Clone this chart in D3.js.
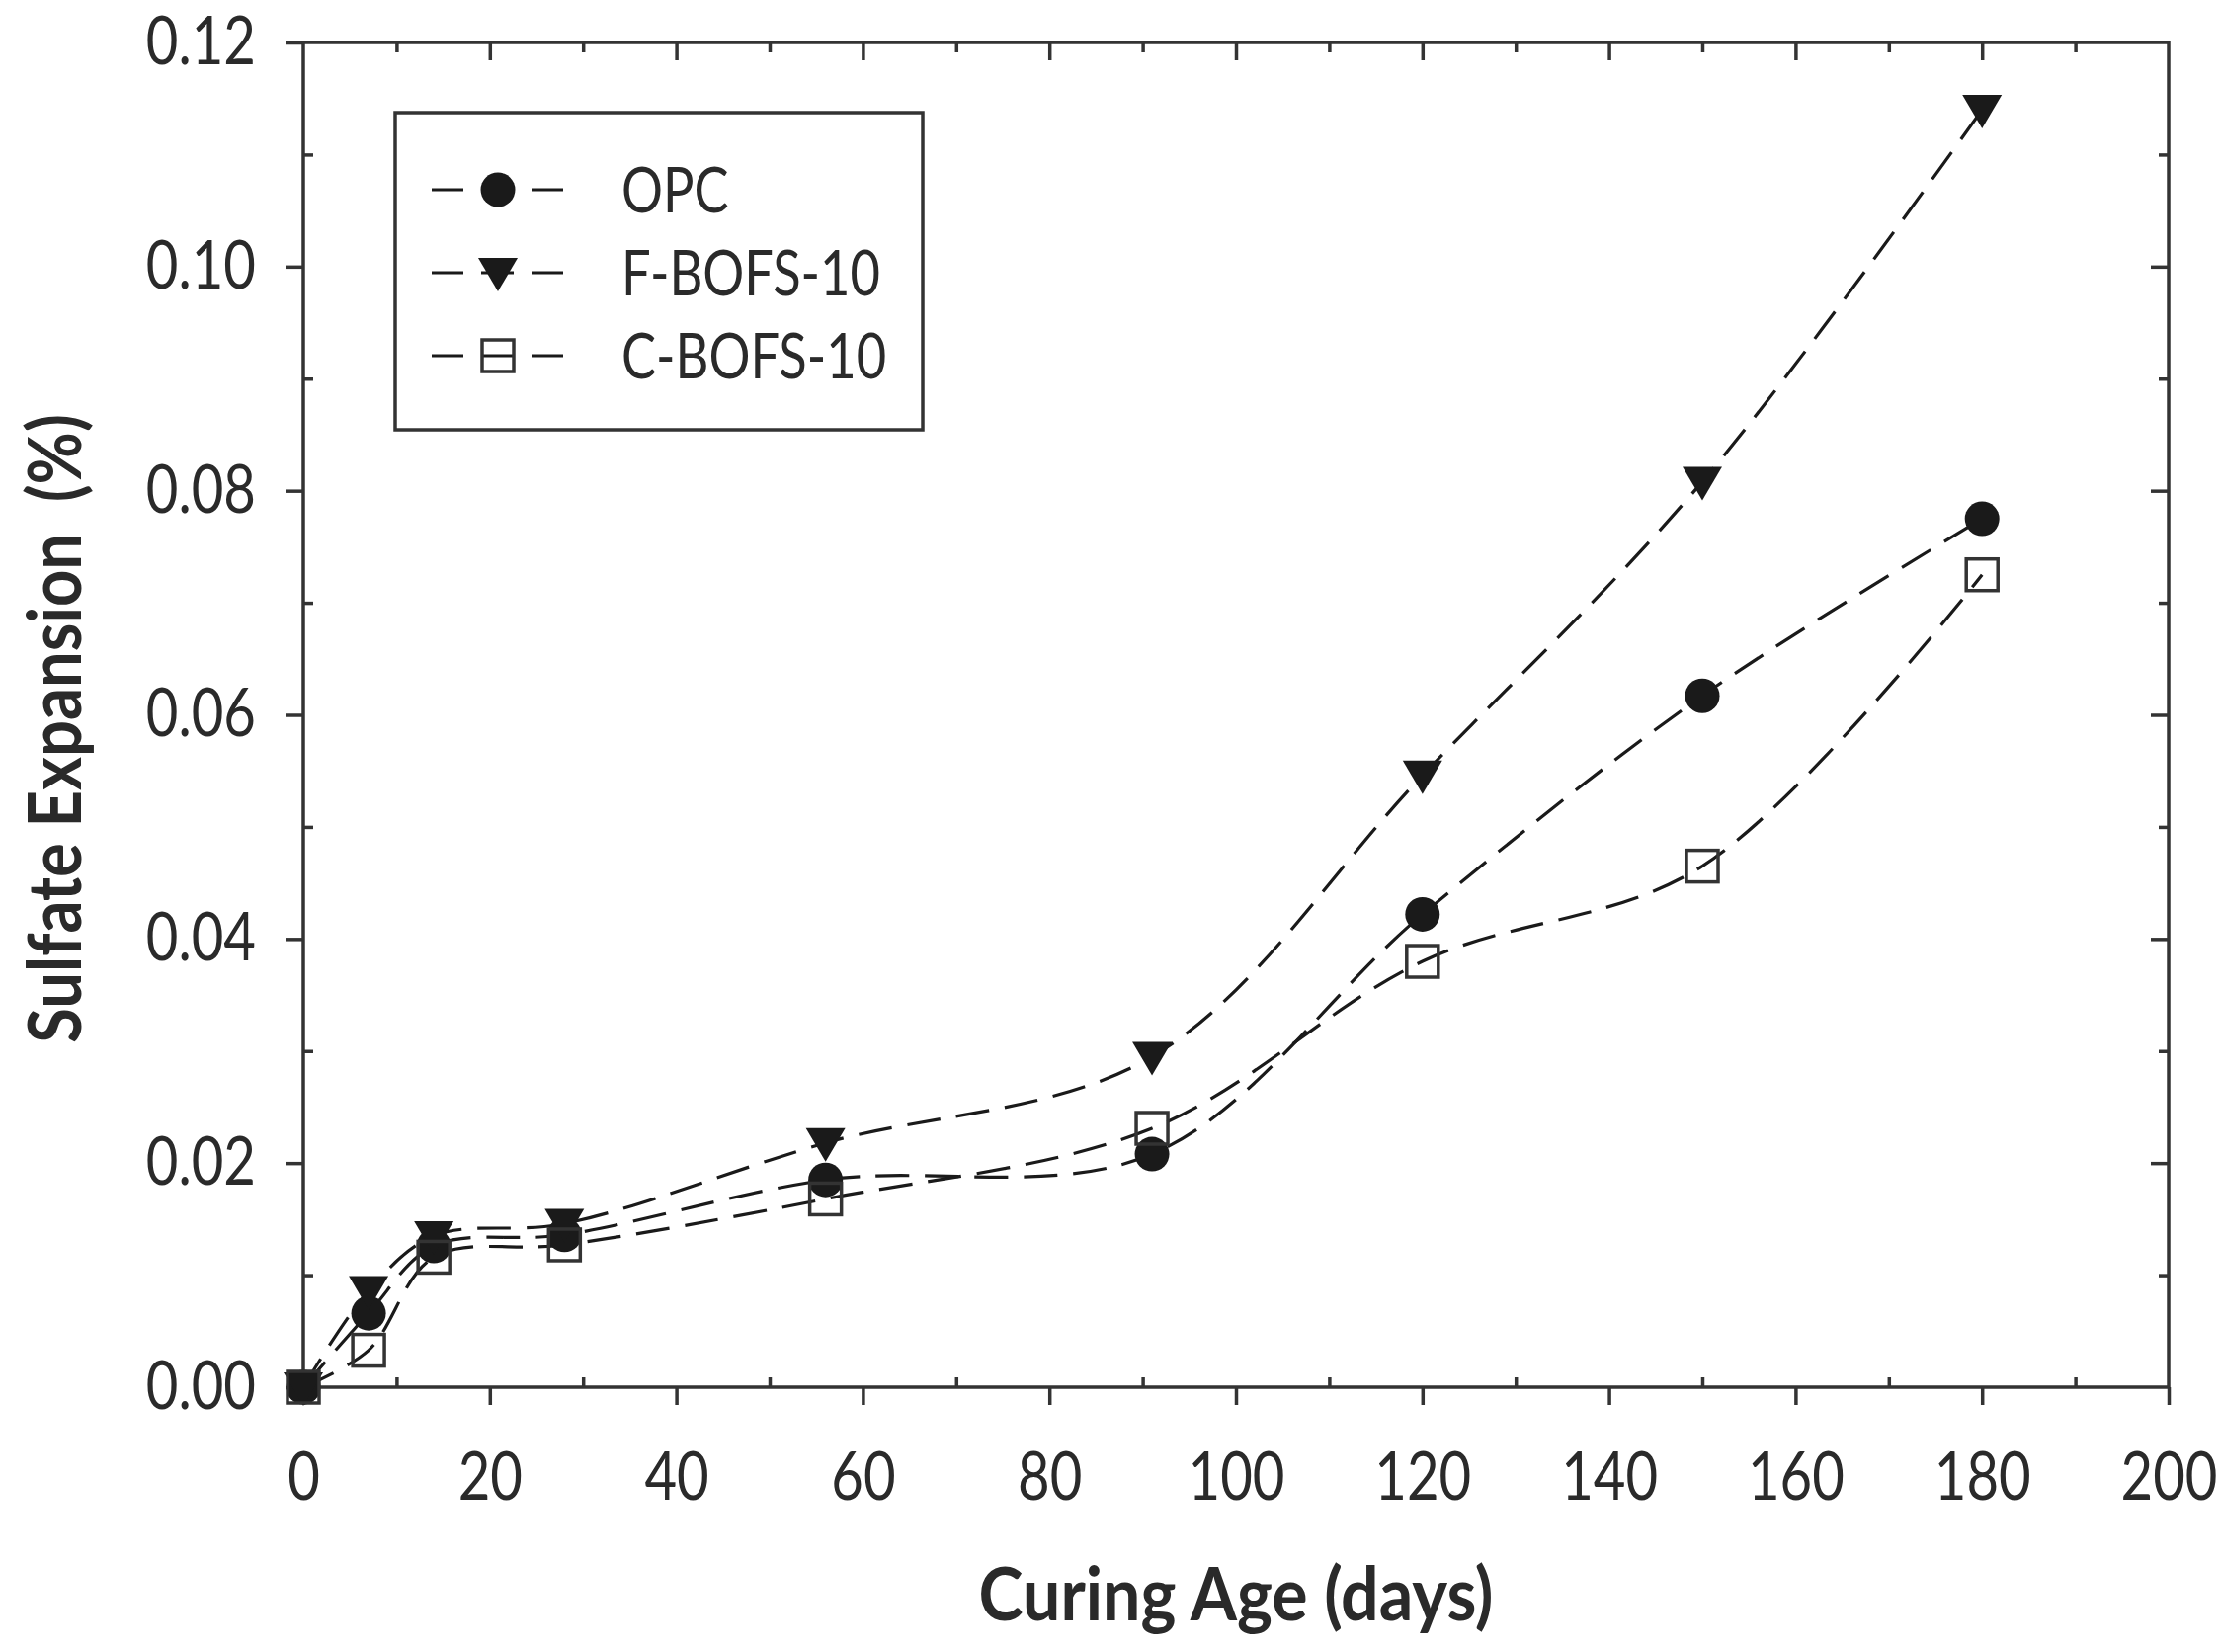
<!DOCTYPE html>
<html>
<head>
<meta charset="utf-8">
<script src="https://cdn.jsdelivr.net/npm/d3@7"></script>
<style>
  body { margin: 0; background: #fff; }
  text { font-family: "Lato", "Open Sans", sans-serif; fill: #2a2a2a; }
</style>
</head>
<body>
<div id="chart"></div>
<script>
// data
const days = [0, 7, 14, 28, 56, 91, 120, 150, 180]
const opc = [0, 0.0066, 0.0126, 0.0136, 0.0185, 0.0208, 0.0422, 0.0617, 0.0775]
const fBofs10 = [0, 0.0086, 0.0135, 0.0146, 0.0218, 0.0295, 0.0546, 0.0808, 0.1140]
const cBofs10 = [0, 0.0033, 0.0116, 0.0127, 0.0168, 0.0231, 0.0380, 0.0465, 0.0725]
const seriesNames = ["OPC", "F-BOFS-10", "C-BOFS-10"]
const xTicks = [0, 20, 40, 60, 80, 100, 120, 140, 160, 180, 200]
const xMinor = [10, 30, 50, 70, 90, 110, 130, 150, 170, 190]
const yTicks = [0, 0.02, 0.04, 0.06, 0.08, 0.10, 0.12]
const yMinor = [0.01, 0.03, 0.05, 0.07, 0.09, 0.11]

const series = [
  { name: seriesNames[0], values: opc, symbol: "circle" },
  { name: seriesNames[1], values: fBofs10, symbol: "triangle" },
  { name: seriesNames[2], values: cBofs10, symbol: "square" },
]

const dimensions = {
  width: 2246,
  height: 1672,
  margin: { top: 43, right: 51, bottom: 268, left: 307 },
}
dimensions.boundedWidth = dimensions.width - dimensions.margin.left - dimensions.margin.right
dimensions.boundedHeight = dimensions.height - dimensions.margin.top - dimensions.margin.bottom

const ink = "#1a1a1a"
const axisInk = "#333"
const majorLen = 18
const minorLen = 10
// the original type is a narrow (Calibri-like) face, so Lato gets squeezed sideways
const squeeze = 0.84

const wrapper = d3.select("#chart").append("svg")
    .attr("width", dimensions.width)
    .attr("height", dimensions.height)

const bounds = wrapper.append("g")
    .attr("transform", `translate(${dimensions.margin.left},${dimensions.margin.top})`)

// scales
const xScale = d3.scaleLinear().domain([0, 200]).range([0, dimensions.boundedWidth])
const yScale = d3.scaleLinear().domain([0, 0.12]).range([dimensions.boundedHeight, 0])

// axes: major ticks out on bottom/left, minor ticks in; top/right ticks in
function styleAxis(g) {
  g.select(".domain").remove()
  g.selectAll(".tick line").attr("stroke", axisInk).attr("stroke-width", 3.5)
  g.selectAll(".tick text").attr("fill", "#2a2a2a")
}

const xAxis = bounds.append("g")
    .attr("transform", `translate(0,${dimensions.boundedHeight})`)
    .call(d3.axisBottom(xScale).tickValues(xTicks).tickSize(majorLen).tickPadding(48))
    .call(styleAxis)
xAxis.selectAll(".tick text")
    .style("font-size", "67px")
    .attr("transform", `scale(${squeeze},1)`)

bounds.append("g")
    .attr("transform", `translate(0,${dimensions.boundedHeight})`)
    .call(d3.axisTop(xScale).tickValues(xMinor).tickSize(minorLen).tickFormat(""))
    .call(styleAxis)

const yAxis = bounds.append("g")
    .call(d3.axisLeft(yScale).tickValues(yTicks).tickSize(majorLen).tickPadding(30).tickFormat(d3.format(".2f")))
    .call(styleAxis)
yAxis.selectAll(".tick text")
    .style("font-size", "67px")
    .attr("x", 0)
    .attr("transform", `translate(${-(majorLen + 30)},0) scale(${squeeze},1)`)

bounds.append("g")
    .call(d3.axisRight(yScale).tickValues(yMinor).tickSize(minorLen).tickFormat(""))
    .call(styleAxis)

bounds.append("g")
    .call(d3.axisBottom(xScale).tickValues(xTicks.slice(1, -1)).tickSize(majorLen).tickFormat(""))
    .call(styleAxis)
bounds.append("g")
    .call(d3.axisBottom(xScale).tickValues(xMinor).tickSize(minorLen).tickFormat(""))
    .call(styleAxis)
bounds.append("g")
    .attr("transform", `translate(${dimensions.boundedWidth},0)`)
    .call(d3.axisLeft(yScale).tickValues(yTicks.slice(1, -1)).tickSize(majorLen).tickFormat(""))
    .call(styleAxis)
bounds.append("g")
    .attr("transform", `translate(${dimensions.boundedWidth},0)`)
    .call(d3.axisLeft(yScale).tickValues(yMinor).tickSize(minorLen).tickFormat(""))
    .call(styleAxis)

// frame
bounds.append("rect")
    .attr("width", dimensions.boundedWidth)
    .attr("height", dimensions.boundedHeight)
    .attr("fill", "none")
    .attr("stroke", axisInk)
    .attr("stroke-width", 3.5)

// axis titles
wrapper.append("text")
    .attr("transform", `translate(${dimensions.margin.left + dimensions.boundedWidth / 2},1640) scale(0.92,1)`)
    .attr("text-anchor", "middle")
    .style("font-size", "74px")
    .style("font-weight", "bold")
    .text("Curing Age (days)")

wrapper.append("text")
    .attr("transform", `translate(82,${dimensions.margin.top + dimensions.boundedHeight / 2 + 14}) rotate(-90) scale(0.88,1)`)
    .attr("text-anchor", "middle")
    .style("font-size", "74px")
    .style("font-weight", "bold")
    .style("white-space", "pre")
    .text("Sulfate Expansion  (%)")

// markers
function drawSymbol(sel, type) {
  if (type === "circle") {
    sel.append("circle").attr("r", 17.5).attr("fill", ink)
  } else if (type === "triangle") {
    sel.append("path").attr("d", "M-20,-15 L20,-15 L0,19 Z").attr("fill", ink)
  } else {
    sel.append("rect").attr("x", -16).attr("y", -16).attr("width", 32).attr("height", 32)
        .attr("fill", "none").attr("stroke", axisInk).attr("stroke-width", 3.5)
  }
}

// lines
const lineGenerator = d3.line()
    .x((d, i) => xScale(days[i]))
    .y(d => yScale(d))
    .curve(d3.curveCatmullRom.alpha(0.5))

series.forEach(s => {
  bounds.append("path")
      .attr("d", lineGenerator(s.values))
      .attr("fill", "none")
      .attr("stroke", ink)
      .attr("stroke-width", 3.2)
      .attr("stroke-dasharray", "34,16")
})

series.forEach(s => {
  bounds.selectAll(null)
    .data(s.values)
    .enter().append("g")
      .attr("transform", (d, i) => `translate(${xScale(days[i])},${yScale(d)})`)
      .each(function () { drawSymbol(d3.select(this), s.symbol) })
})

// legend
const legend = wrapper.append("g")
legend.append("rect")
    .attr("x", 400).attr("y", 114)
    .attr("width", 534).attr("height", 321)
    .attr("fill", "#fff")
    .attr("stroke", axisInk)
    .attr("stroke-width", 3.5)

series.forEach((s, i) => {
  const row = legend.append("g").attr("transform", `translate(0,${192 + i * 84})`)
  row.append("line")
      .attr("x1", 437).attr("x2", 570)
      .attr("stroke", ink).attr("stroke-width", 3.2)
      .attr("stroke-dasharray", "32,18,33,18,32")
  const m = row.append("g").attr("transform", "translate(504,0)")
  drawSymbol(m, s.symbol)
  row.append("text")
      .attr("transform", "translate(629,0) scale(0.82,1)")
      .attr("dy", "0.36em")
      .style("font-size", "64px")
      .text(s.name)
})
</script>
</body>
</html>
